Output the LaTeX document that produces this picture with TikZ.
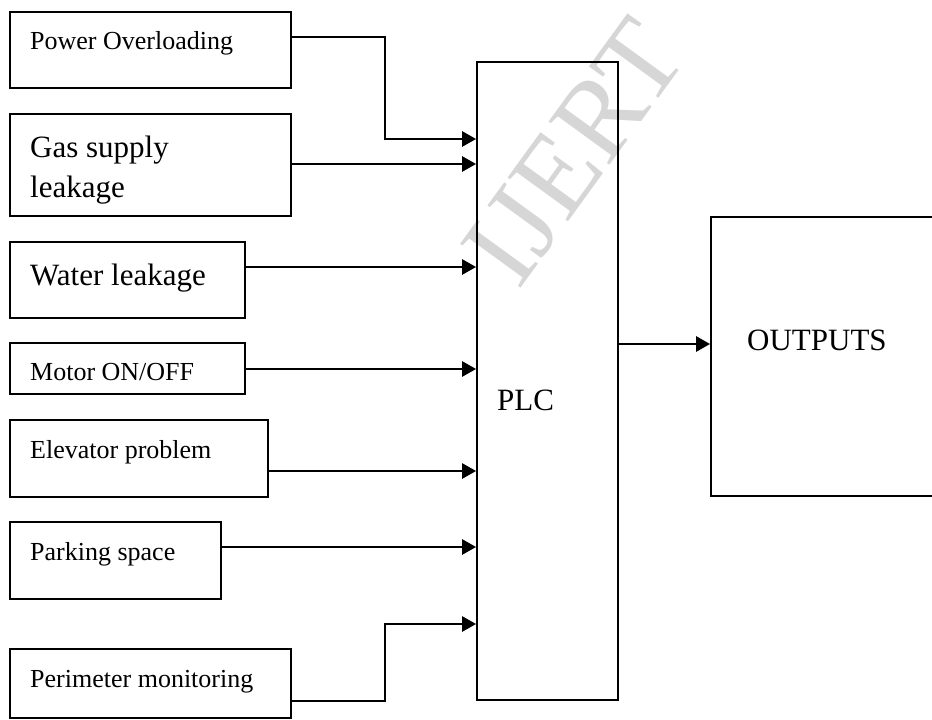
\documentclass[tikz,border=0pt]{standalone}
\usepackage{fontspec}
\setmainfont{Liberation Serif}
\usetikzlibrary{arrows.meta,calc}
\tikzset{
  box/.style={draw=black, line width=1.8pt, rectangle, inner sep=0pt},
  lbl/.style={anchor=base west, inner sep=0pt, font=\fontsize{26}{30}\selectfont},
  biglbl/.style={anchor=base west, inner sep=0pt, align=left, font=\fontsize{31}{40}\selectfont},
  arr/.style={line width=2.6pt, -{Triangle[length=14pt,width=15pt]}},
}
\begin{document}
\begin{tikzpicture}[x=1pt,y=-1pt]
\useasboundingbox (0,0) rectangle (932,720);
\clip (0,0) rectangle (932,720);
\fill[white] (0,0) rectangle (932,720);
% watermark
\node[text=black!16, rotate=54, font=\fontsize{114}{114}\selectfont, inner sep=0pt] (wm) at (574,152) {IJERT};
% boxes
\node[box, minimum width=281pt, minimum height=76pt] (b1) at (150.5,50) {};
\node[box, minimum width=281pt, minimum height=102pt] (b2) at (150.5,165) {};
\node[box, minimum width=235pt, minimum height=76pt] (b3) at (127.5,280) {};
\node[box, minimum width=235pt, minimum height=51pt] (b4) at (127.5,368.5) {};
\node[box, minimum width=258pt, minimum height=77pt] (b5) at (139,458.5) {};
\node[box, minimum width=211pt, minimum height=77pt] (b6) at (115.5,560.5) {};
\node[box, minimum width=281pt, minimum height=69pt] (b7) at (150.5,683.5) {};
\node[box, minimum width=141pt, minimum height=638pt] (plc) at (547.5,381) {};
\node[box, minimum width=229pt, minimum height=279pt] (out) at (825.5,356.5) {};
% texts
\node[lbl] (t1) at (30,49) {Power Overloading};
\node[biglbl] (t2) at (30,197) {Gas supply\\leakage};
\node[biglbl] (t3) at (30,285) {Water leakage};
\node[lbl] (t4) at (30,380) {Motor ON/OFF};
\node[lbl] (t5) at (30,458) {Elevator problem};
\node[lbl] (t6) at (30,560) {Parking space};
\node[lbl] (t7) at (30,687) {Perimeter monitoring};
\node[biglbl] (tplc) at (497,410) {PLC};
\node[biglbl] (tout) at (747,350) {OUTPUTS};
% connectors
\coordinate (k1) at (385,37);
\coordinate (k7) at (385,701);
\draw[arr] (b1.east |- k1) -- (k1) |- (plc.west |- 0,139);
\draw[arr] (b2.east |- 0,164) -- (plc.west |- 0,164);
\draw[arr] (b3.east |- 0,267) -- (plc.west |- 0,267);
\draw[arr] (b4.east |- 0,369) -- (plc.west |- 0,369);
\draw[arr] (b5.east |- 0,471) -- (plc.west |- 0,471);
\draw[arr] (b6.east |- 0,547) -- (plc.west |- 0,547);
\draw[arr] (b7.east |- k7) -- (k7) |- (plc.west |- 0,624);
\draw[arr] (plc.east |- 0,344) -- (out.west |- 0,344);
\end{tikzpicture}
\end{document}
